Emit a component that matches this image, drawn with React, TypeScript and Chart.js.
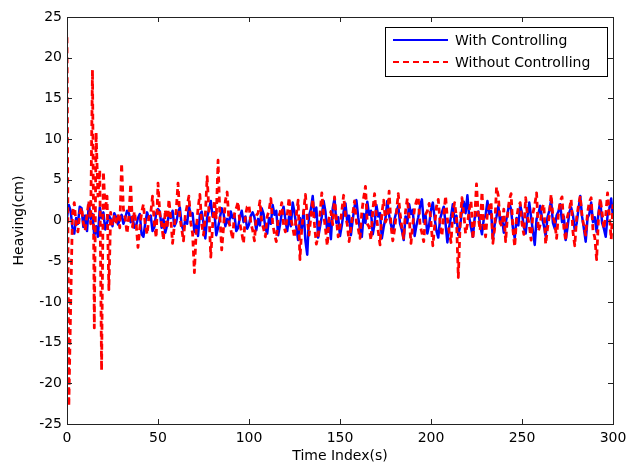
import React, { useEffect, useRef } from "react";
import { Chart, registerables } from "chart.js";

Chart.register(...registerables);

const xTicks = [0, 50, 100, 150, 200, 250, 300];
const yTicks = [-25, -20, -15, -10, -5, 0, 5, 10, 15, 20, 25];

const withControlling = [
  0.4, 1.9, 1.2, -0.9, -1.6, 0.3, -0.4, 1.7, 1.5, -0.8,
  0.6, -1.3, 2.1, 0.2, 0.8, -1.9, -0.7, -2.0, 1.6, 0.3,
  1.0, -1.1, -0.3, 0.6, 0.2, -0.7, 0.9, 0.4, -0.5, 0.1,
  0.7, -0.4, 0.3, 1.2, 0.9, -0.2, 0.5, -0.9, -0.6, 0.3,
  0.8, -1.7, -2.0, -0.3, 1.0, 0.2, 0.6, -1.3, -0.8, 0.9,
  1.4, 1.1, -0.9, 0.2, -1.5, -0.6, 0.8, 0.3, 1.2, -0.7,
  -0.2, 0.9, 1.6, -0.6, -1.2, 0.1, -0.4, 1.8, 0.6, 0.9,
  -1.4, -0.5, -1.9, 0.7, 1.1, -0.3, -2.2, 0.4, 1.3, 2.4,
  0.5, 1.0, -1.8, -0.9, 0.3, 1.5, 0.9, -0.7, 0.2, -0.4,
  1.1, 0.3, 0.7, -1.3, -0.9, 0.4, 1.2, -0.2, 0.5, -1.0,
  -0.5, 0.6, 1.0, 0.4, -1.2, 0.2, -0.6, 1.5, 0.8, -0.9,
  -1.6, 0.3, -0.4, 1.9, 0.7, 1.2, -1.8, -0.6, 0.9, 1.7,
  0.1, -1.3, 0.5, -0.7, 2.2, 1.0, -0.8, -2.4, 0.3, -1.0,
  1.2, -2.5, -4.2, 0.6, 1.4, 3.0, 0.4, 1.6, -2.1, -0.8,
  0.5, 2.4, 1.1, -1.4, 0.2, -2.3, 1.5, 2.7, -0.3, 0.4,
  -1.9, -0.6, 1.1, 2.1, -0.2, 0.6, -1.8, 0.1, 1.7, 2.5,
  0.4, -1.2, -2.0, 0.8, -0.3, 2.3, 0.7, 1.2, -1.7, -0.4,
  1.9, 0.5, 0.9, -2.2, -0.8, 0.3, 2.4, 0.6, -0.5, -1.5,
  0.2, 1.1, 1.8, -0.4, -1.2, -2.4, 0.5, -0.3, 2.0, 0.8,
  1.3, -1.9, -0.6, 0.4, 1.8, 2.6, -0.2, 0.7, -1.6, -0.5,
  1.3, 2.2, 0.3, -1.3, -2.1, 0.2, 1.0, 1.7, -0.4, -2.7,
  -0.8, 0.5, 2.0, -0.3, 0.6, -1.8, -0.7, 1.2, 2.3, 0.9,
  3.1, 0.4, -0.9, -2.0, 0.3, 0.8, 1.1, -0.6, -1.7, 0.2,
  0.6, 2.4, 0.8, 1.2, -2.3, -0.5, 0.5, 1.8, -0.2, 0.4,
  -1.5, -0.3, 0.8, 2.1, 1.4, -0.9, -2.2, 0.3, -0.6, 1.9,
  0.9, -0.8, -1.6, 0.5, 2.2, 0.4, -1.3, -3.0, 0.2, 0.8,
  1.8, 0.3, -0.6, -1.9, 0.4, 1.2, 2.5, -0.3, -1.0, 0.6,
  1.1, 2.0, -0.2, 0.5, -2.4, -0.9, 1.0, 1.6, 0.7, -1.2,
  -0.4, 1.3, 3.0, 0.5, -1.0, -2.6, 0.3, 0.8, 2.2, -0.2,
  0.4, -1.4, 0.9, 2.4, -0.3, -1.0, -2.0, 0.6, 1.5, 2.7,
  0.4,
];

const withoutControlling = [
  22.5, -22.8, -10.5, 0.8, 2.2, -0.6, -1.4, 0.9, 1.6, -0.3,
  -1.2, 0.7, 2.4, -0.4, 18.5, -13.2, 10.8, 3.0, 6.2, -18.4,
  6.0, 1.2, 3.0, -8.5, 1.0, -0.6, 0.5, -0.2, 0.8, -0.9,
  7.0, 1.4, 0.3, -1.6, 0.6, 4.5, -0.8, 1.1, -0.4, -3.3,
  -0.9, 1.0, 2.0, -0.6, -1.7, 0.4, 0.9, 3.0, -0.5, -2.1,
  4.6, 0.8, -0.4, -2.4, 1.3, -1.0, 2.6, 0.3, -2.8, -0.6,
  1.2, 4.6, 0.4, -1.0, -2.5, 0.7, 1.8, 3.0, -0.3, -1.6,
  -6.4, -1.2, 1.5, 3.2, -0.4, -1.8, 0.6, 5.4, 1.1, -4.5,
  -0.6, 2.5, 0.3, 7.4, 0.6, -3.6, -0.9, 2.4, 3.5, -0.2,
  -1.1, -2.3, 0.8, 1.5, 2.3, -0.4, -1.5, -2.8, 0.5, 1.7,
  1.9, -0.3, -1.2, -2.5, 0.6, 0.9, 2.4, -0.2, -1.0, -2.0,
  0.5, 1.2, 2.7, -0.3, -1.7, -2.6, 0.4, 0.9, 2.2, -0.5,
  -1.4, 0.6, 2.8, 0.2, -0.8, -2.1, 0.7, 2.5, -4.8, -0.9,
  1.0, 3.2, 0.4, -1.8, 0.5, 2.6, -0.6, -2.9, -1.9, 0.7,
  3.4, 0.8, -1.0, -3.1, 0.3, 1.1, -0.5, 2.9, 0.2, -2.0,
  -0.8, 1.2, 3.1, 0.6, -0.5, -2.6, -0.9, 0.8, 2.4, -0.2,
  -1.0, -2.2, 1.1, 2.8, 4.2, -0.4, -0.8, -2.4, 1.2, 3.3,
  0.5, -1.3, -3.0, 0.9, 2.5, -0.2, 0.4, 3.6, -0.6, -2.5,
  -1.1, 1.0, 3.3, 0.9, -0.9, -2.2, 1.1, 2.7, 0.3, -2.8,
  -0.4, 1.5, 2.4, 2.9, -0.6, -1.5, -2.6, 0.7, 1.2, 2.1,
  -0.2, -3.1, -0.7, 1.7, 2.6, -0.3, -1.9, 0.6, 3.0, 0.2,
  -1.4, -2.7, 1.0, 2.2, 0.3, -7.0, -0.4, 2.8, 0.9, -1.6,
  -0.5, 1.3, 2.4, -2.3, 0.2, 4.5, 0.4, -1.2, 3.5, -0.6,
  -2.0, 0.9, 1.7, 2.3, -2.8, -0.9, 4.1, 3.0, -0.3, -0.7,
  1.4, -2.6, 0.5, 2.5, 3.3, -1.1, -3.2, 0.3, 1.6, 2.2,
  -0.4, -1.7, 2.8, 0.6, -0.6, -2.4, 0.9, 1.9, 3.4, -1.3,
  -0.5, 1.5, 2.0, -2.9, -1.0, 0.6, 3.2, 0.4, -0.2, -2.2,
  0.8, 2.4, 2.9, -0.9, -2.5, 0.5, 1.3, 2.6, -1.4, -3.1,
  0.3, 1.8, 3.0, 0.5, -0.7, -1.8, 0.9, 2.3, 2.8, -1.2,
  -2.1, -4.8, 0.2, 2.7, 1.0, -1.0, 0.6, 3.4, 0.7, -2.3,
  2.0,
];

const seriesLabels = ["With Controlling", "Without Controlling"];
const FONT = "'DejaVu Sans', sans-serif";

const boxPlugin = {
  id: "matlabBox",
  afterDatasetsDraw(chart: any) {
    const { ctx, chartArea: a, scales } = chart;
    const xs = scales.x;
    const ys = scales.y;
    ctx.save();
    ctx.strokeStyle = "#222";
    ctx.lineWidth = 1;
    ctx.beginPath();
    const tl = 5;
    xTicks.forEach((v) => {
      const px = Math.round(xs.getPixelForValue(v)) + 0.5;
      ctx.moveTo(px, a.bottom);
      ctx.lineTo(px, a.bottom - tl);
      ctx.moveTo(px, a.top);
      ctx.lineTo(px, a.top + tl);
    });
    yTicks.forEach((v) => {
      const py = Math.round(ys.getPixelForValue(v)) + 0.5;
      ctx.moveTo(a.left, py);
      ctx.lineTo(a.left + tl, py);
      ctx.moveTo(a.right, py);
      ctx.lineTo(a.right - tl, py);
    });
    ctx.stroke();
    ctx.strokeRect(Math.round(a.left) + 0.5, Math.round(a.top) + 0.5, Math.round(a.right - a.left), Math.round(a.bottom - a.top));

    // legend
    const lx = 385.5, ly = 27.5, lw = 222, lh = 49;
    ctx.fillStyle = "#fff";
    ctx.fillRect(lx, ly, lw, lh);
    ctx.strokeStyle = "#000";
    ctx.strokeRect(lx, ly, lw, lh);
    const ds = chart.data.datasets;
    const rows = [40, 62];
    rows.forEach((y, i) => {
      const d = ds[i];
      ctx.beginPath();
      ctx.strokeStyle = d.borderColor;
      ctx.lineWidth = 2;
      ctx.setLineDash(d.borderDash || []);
      ctx.moveTo(393, y);
      ctx.lineTo(448, y);
      ctx.stroke();
      ctx.setLineDash([]);
      ctx.fillStyle = "#000";
      ctx.font = "14px " + FONT;
      ctx.textBaseline = "middle";
      ctx.textAlign = "left";
      ctx.fillText(d.label, 455, y + 1);
    });
    ctx.restore();
  },
};

export default function App() {
  const ref = useRef<HTMLCanvasElement | null>(null);
  useEffect(() => {
    document.body.style.margin = "0";
    const canvas = ref.current!;
    const chart = new Chart(canvas, {
      type: "line",
      data: {
        datasets: [
          {
            label: seriesLabels[0],
            data: withControlling.map((y, i) => ({ x: i, y })),
            borderColor: "#0000ff",
            borderWidth: 2.5,
            borderJoinStyle: "round",
            pointRadius: 0,
            tension: 0,
            fill: false,
            order: 2,
          },
          {
            label: seriesLabels[1],
            data: withoutControlling.map((y, i) => ({ x: i, y })),
            borderColor: "#ff0000",
            borderWidth: 2.8,
            borderDash: [6, 4],
            borderJoinStyle: "round",
            pointRadius: 0,
            tension: 0,
            fill: false,
            order: 1,
          },
        ],
      },
      options: {
        responsive: false,
        animation: false,
        maintainAspectRatio: false,
        layout: { padding: { left: 0, top: 17, right: 20, bottom: 0 } },
        plugins: { legend: { display: false }, tooltip: { enabled: false } },
        scales: {
          x: {
            type: "linear",
            min: 0,
            max: 300,
            afterBuildTicks: (s: any) => {
              s.ticks = xTicks.map((v) => ({ value: v }));
            },
            afterFit: (s: any) => {
              s.height = 43;
            },
            grid: { display: false, drawTicks: false },
            border: { display: false },
            ticks: {
              color: "#000",
              padding: 6,
              font: { family: FONT, size: 14 },
              maxRotation: 0,
            },
            title: {
              display: true,
              text: "Time Index(s)",
              color: "#000",
              font: { family: FONT, size: 14 },
              padding: { top: 0, bottom: 2 },
            },
          },
          y: {
            type: "linear",
            min: -25,
            max: 25,
            afterBuildTicks: (s: any) => {
              s.ticks = yTicks.map((v) => ({ value: v }));
            },
            afterFit: (s: any) => {
              s.width = 67;
            },
            grid: { display: false, drawTicks: false },
            border: { display: false },
            ticks: {
              color: "#000",
              padding: 5,
              font: { family: FONT, size: 14 },
            },
            title: {
              display: true,
              text: "Heaving(cm)",
              color: "#000",
              font: { family: FONT, size: 14 },
              padding: { top: 11, bottom: 0 },
            },
          },
        },
      },
      plugins: [boxPlugin],
    });
    return () => chart.destroy();
  }, []);
  return (
    <div style={{ position: "absolute", left: 0, top: 0, width: 633, height: 467, background: "#fff" }}>
      <canvas ref={ref} width={633} height={467} />
    </div>
  );
}
